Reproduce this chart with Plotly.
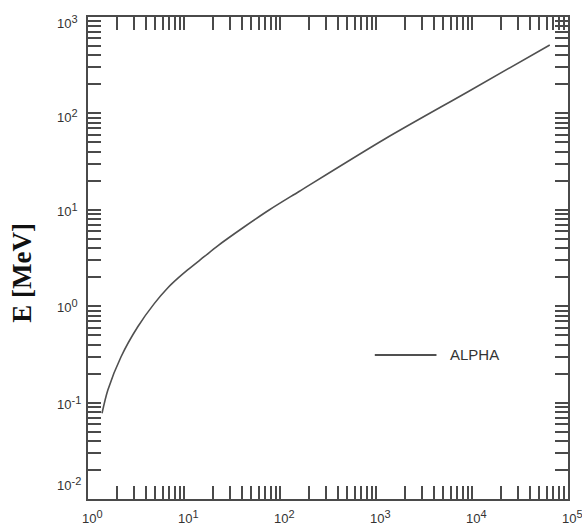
import plotly.graph_objects as go

# Range-energy curve for alpha particles (log-log)
series_name = "ALPHA"
x_range_vals = [1.40, 1.61, 2.21, 3.30, 4.92, 6.76, 8.59, 10.9, 16.2, 22.3, 41.5, 77.0, 158, 1234, 9180, 64600]
energy_mev = [0.0775, 0.135, 0.299, 0.612, 1.07, 1.545, 1.94, 2.38, 3.26, 4.21, 6.55, 9.95, 15.5, 54.3, 169, 513]

x_decades = [0, 1, 2, 3, 4, 5]
y_decades = [-2, -1, 0, 1, 2, 3]
y_title = "E [MeV]"

AX = "#4a4a4a"
TXT = "#333333"
PLOT_W = 482  # plot area width in px (582 - 88 - 12)


def log_ticks(decades):
    vals = []
    for k in decades[:-1]:
        for m in range(1, 10):
            vals.append(m * 10.0 ** k)
    vals.append(10.0 ** decades[-1])
    return vals


def power_label(k):
    return f"10<sup><span style='font-size:11px'>{k}</span></sup>"


fig = go.Figure()
fig.add_trace(go.Scatter(
    x=x_range_vals, y=energy_mev, mode="lines", name=series_name,
    line=dict(color="#505050", width=1.6, shape="spline", smoothing=0.8),
    showlegend=False,
))

axis_common = dict(
    type="log", showgrid=False, zeroline=False,
    showline=True, linecolor=AX, linewidth=2, mirror="ticks",
    ticks="inside", ticklen=13, tickwidth=2, tickcolor=AX,
    showticklabels=False,
)
fig.update_xaxes(range=[x_decades[0], x_decades[-1]], tickvals=log_ticks(x_decades), **axis_common)
fig.update_yaxes(range=[y_decades[0], y_decades[-1]], tickvals=log_ticks(y_decades), **axis_common)

annotations = []
lab_font = dict(family="Liberation Sans, Arial, sans-serif", size=13, color=TXT)
for k in x_decades:
    annotations.append(dict(
        x=k, y=0, xref="x", yref="paper", text=power_label(k),
        showarrow=False, xanchor="left", yanchor="top", xshift=-8, yshift=-7,
        font=lab_font,
    ))

# y decade labels, left-aligned in the margin
y_shift = {-2: 15, 2: -3, 3: -5}
lab_x = -33 / PLOT_W
for k in y_decades:
    annotations.append(dict(
        x=lab_x, y=k, xref="paper", yref="y", text=power_label(k),
        showarrow=False, xanchor="left", yanchor="middle",
        yshift=y_shift.get(k, 0), font=lab_font,
    ))

# Y axis title
annotations.append(dict(
    x=-0.137, y=0.470, xref="paper", yref="paper", text=f"<b>{y_title}</b>",
    textangle=-90, showarrow=False, xanchor="center", yanchor="middle",
    font=dict(family="Liberation Serif, Times New Roman, serif", size=27, color="#111111"),
))

# Legend entry
annotations.append(dict(
    x=0.751, y=0.299, xref="paper", yref="paper", text=series_name,
    showarrow=False, xanchor="left", yanchor="middle",
    font=dict(family="Liberation Sans, Arial, sans-serif", size=15, color=TXT),
))

fig.update_layout(
    width=582, height=525,
    margin=dict(l=88, r=12, t=17, b=26),
    paper_bgcolor="white", plot_bgcolor="white",
    annotations=annotations,
    shapes=[dict(type="line", xref="paper", yref="paper",
                 x0=0.5975, x1=0.726, y0=0.299, y1=0.299,
                 line=dict(color="#505050", width=2))],
)

fig.write_html("out.html")
